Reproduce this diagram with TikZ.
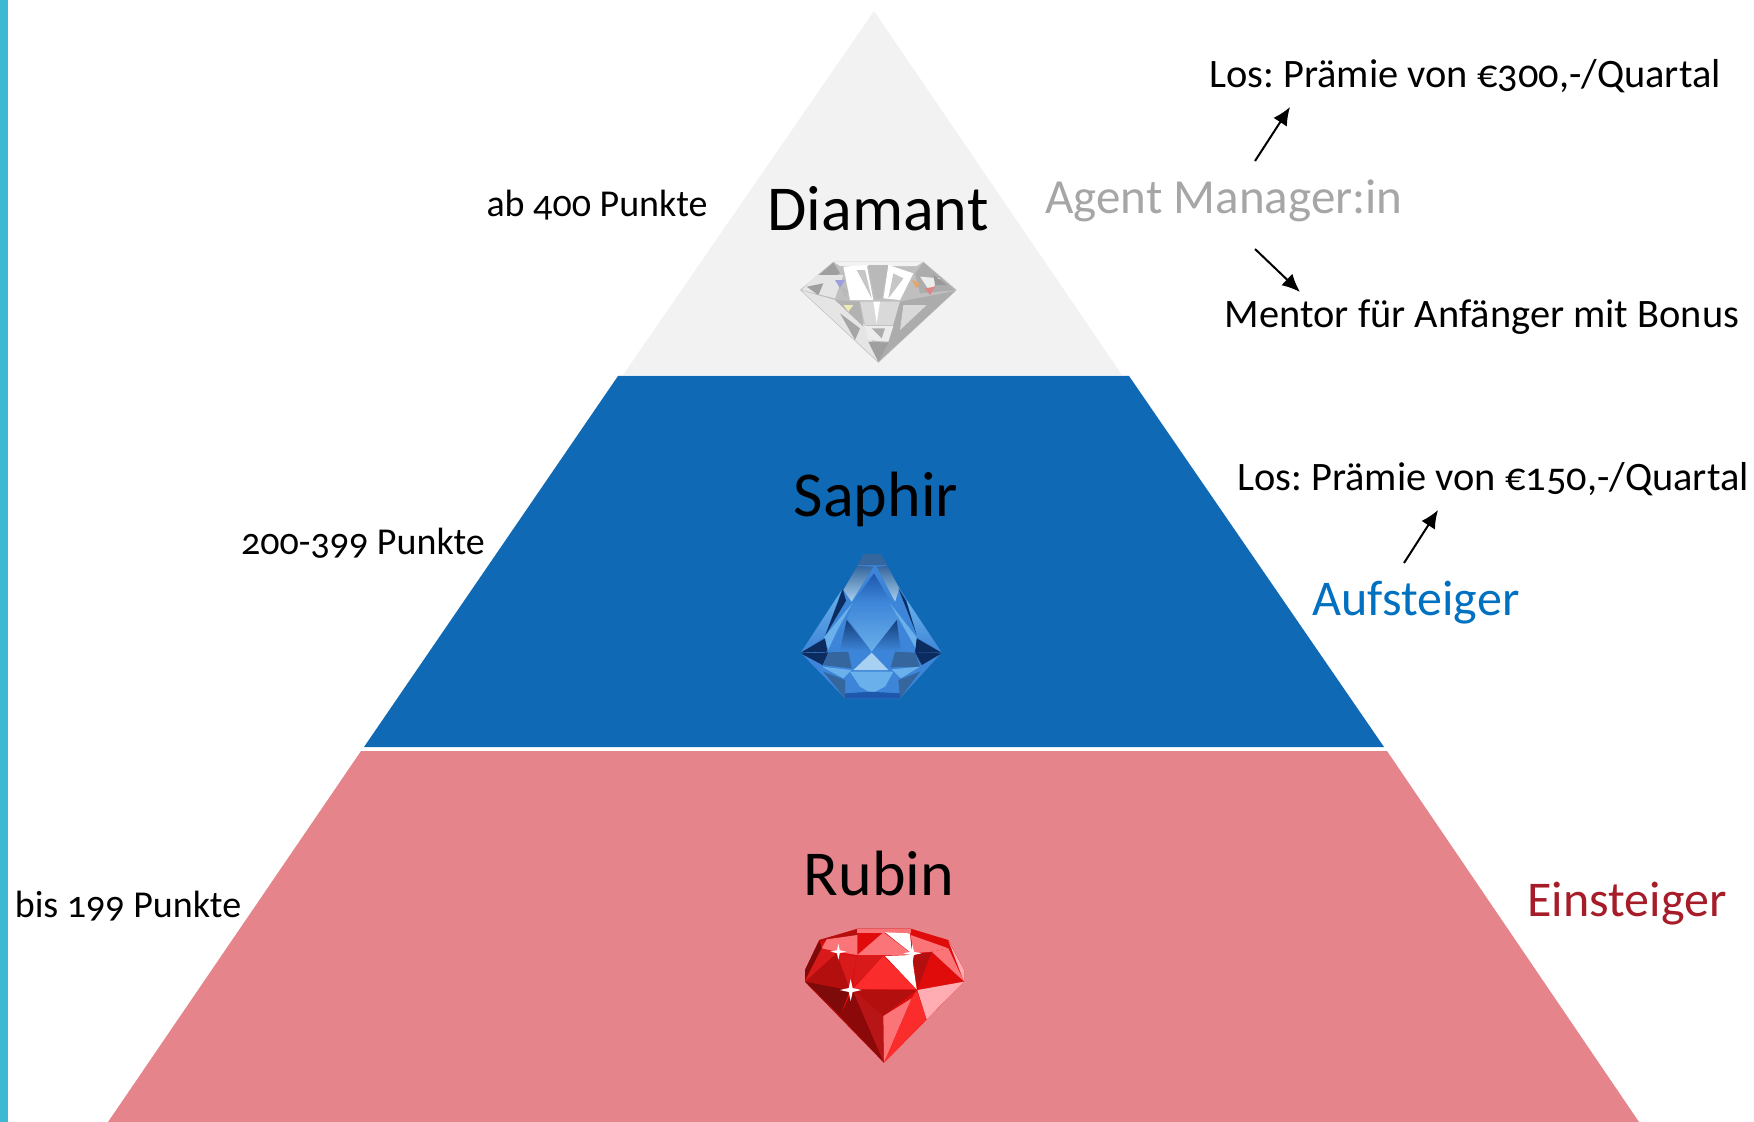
\documentclass[tikz,border=0pt]{standalone}
\usepackage{fontspec}
\setmainfont[Numbers=OldStyle]{Carlito}
\usetikzlibrary{arrows.meta,shapes.geometric}
\definecolor{barcyan}{HTML}{3FB8D4}
\definecolor{diamgrey}{HTML}{F2F2F2}
\definecolor{saphblue}{HTML}{0F69B4}
\definecolor{rubinred}{HTML}{E5858B}
\definecolor{agentgrey}{HTML}{A6A6A6}
\definecolor{aufblue}{HTML}{0070C0}
\definecolor{einred}{HTML}{A61C28}
\definecolor{rbA}{HTML}{7E0A0A}
\definecolor{rbB}{HTML}{B30F0F}
\definecolor{rbC}{HTML}{D81A1A}
\definecolor{rbD}{HTML}{E00C0C}
\definecolor{rbE}{HTML}{FA2C2C}
\definecolor{rbF}{HTML}{FA7478}
\definecolor{rbG}{HTML}{FFACB2}
\definecolor{sbA}{HTML}{0C2C60}
\definecolor{sbB}{HTML}{1D58AC}
\definecolor{sbC}{HTML}{3D85D8}
\definecolor{sbD}{HTML}{6AB0EA}
\definecolor{sbE}{HTML}{A8D0F0}
\definecolor{sbF}{HTML}{35669E}
\tikzset{
	tier/.style={font=\fontsize{32}{38}\selectfont,text=black,inner sep=0},
	points/.style={font=\fontsize{19}{23}\selectfont,text=black,inner sep=0},
	perk/.style={font=\fontsize{20.2}{24}\selectfont,text=black,inner sep=0},
	role/.style={font=\fontsize{25}{30}\selectfont,inner sep=0},
	perkarrow/.style={-{Latex[width=8pt,length=9pt]},black,line width=1pt},
	sparkle/.style={star,star points=4,star point ratio=4,fill=white,inner sep=0,minimum size=11pt}
}
\begin{document}
\frenchspacing
\begin{tikzpicture}[x=.5pt,y=-.5pt]
	\useasboundingbox (0,0) rectangle (1754,1122);
	%%%% bar
	\fill[barcyan] (0,0) rectangle (8,1122);

	%%%% tiers
	\fill[diamgrey] (874,11) -- (1122,375) -- (623,375) -- cycle;
	\fill[saphblue] (618,376) -- (1129,376) -- (1384,747) -- (364,747) -- cycle;
	\fill[rubinred] (361,751) -- (1387,751) -- (1639,1122) -- (108,1122) -- cycle;

	%%%% diamond
	\begin{scope}[shift={(760,230)},x=.1667pt,y=-.1667pt]
		\fill[gray!50] (220,95) -- (490,95) -- (590,180) -- (355,398) -- (120,180) -- cycle;
		\fill[gray!10] (220,95) -- (490,95) -- (470,108) -- (240,108) -- cycle;
		\fill[gray!75] (220,98) -- (240,130) -- (125,180) -- cycle;
		\fill[gray!20] (170,135) -- (250,135) -- (225,205) -- (125,180) -- cycle;
		\fill[gray!75] (140,170) -- (190,160) -- (175,195) -- cycle;
		\fill[white] (250,110) -- (320,105) -- (340,210) -- (270,210) -- cycle;
		\fill[gray!55] (325,105) -- (385,105) -- (365,205) -- (345,205) -- cycle;
		\fill[white] (385,105) -- (460,130) -- (420,210) -- (370,205) -- cycle;
		\fill[gray!45] (290,120) -- (315,120) -- (335,205) -- cycle;
		\fill[gray!45] (400,130) -- (430,145) -- (385,205) -- cycle;
		\fill[gray!65] (490,98) -- (585,180) -- (480,190) -- (465,130) -- cycle;
		\fill[gray!15] (480,140) -- (540,145) -- (510,185) -- cycle;
		\fill[gray!80] (520,135) -- (560,165) -- (525,165) -- cycle;
		\fill[blue!50!gray!50] (225,150) -- (255,150) -- (240,175) -- cycle;
		\fill[orange!70!gray!70] (455,150) -- (480,160) -- (470,175) -- cycle;
		\fill[red!60!gray!60] (495,175) -- (525,170) -- (510,195) -- cycle;
		\fill[gray!55] (240,170) -- (265,180) -- (255,205) -- cycle;
		\fill[gray!20] (125,182) -- (225,210) -- (320,290) -- (355,395) -- cycle;
		\fill[gray!60] (225,210) -- (300,215) -- (310,290) -- cycle;
		\fill[yellow!60!gray!40] (250,225) -- (280,225) -- (265,245) -- cycle;
		\fill[gray!30] (300,215) -- (420,215) -- (400,285) -- (315,285) -- cycle;
		\fill[white] (340,215) -- (360,215) -- (350,280) -- cycle;
		\fill[gray!65] (420,215) -- (585,183) -- (355,395) -- (400,285) -- cycle;
		\fill[gray!30] (430,225) -- (500,225) -- (420,300) -- cycle;
		\fill[gray!70] (240,250) -- (300,295) -- (285,330) -- cycle;
		\fill[gray!15] (315,288) -- (400,288) -- (385,335) -- (325,330) -- cycle;
		\fill[gray!65] (335,295) -- (375,295) -- (365,325) -- cycle;
		\fill[gray!75] (325,335) -- (385,338) -- (355,396) -- cycle;
	\end{scope}

	%%%% sapphire
	\begin{scope}[shift={(770,530)},x=.1667pt,y=-.1667pt]
		\fill[sbC] (282,72) -- (330,72) -- (385,170) -- (515,368) -- (390,505) -- (225,505) -- (92,368) -- (225,180) -- cycle;
		\fill[sbF] (282,72) -- (330,72) -- (352,105) -- (262,105) -- cycle;
		\shade[top color=sbF,bottom color=sbE] (262,108) -- (310,110) -- (245,215) -- (220,180) -- cycle;
		\shade[top color=sbF,bottom color=sbE] (320,110) -- (352,108) -- (388,175) -- (375,215) -- cycle;
		\shade[top color=sbB,bottom color=sbC] (312,130) -- (362,215) -- (250,215) -- cycle;
		\shade[top color=sbC,bottom color=sbD] (250,215) -- (362,215) -- (385,265) -- (305,365) -- (232,265) -- cycle;
		\shade[top color=sbD,bottom color=sbC] (215,180) -- (165,318) -- (92,368) -- cycle;
		\shade[top color=sbD,bottom color=sbC] (410,210) -- (515,368) -- (440,320) -- cycle;
		\fill[sbA] (218,178) -- (228,212) -- (165,318) -- cycle;
		\fill[sbA] (385,175) -- (408,212) -- (440,315) -- cycle;
		\fill[sbD] (248,218) -- (205,295) -- (175,358) -- (162,322) -- cycle;
		\fill[sbD] (360,220) -- (400,290) -- (440,360) -- (440,322) -- cycle;
		\shade[top color=sbB!70!black,bottom color=sbC] (230,270) -- (302,362) -- (210,360) -- cycle;
		\shade[top color=sbB!70!black,bottom color=sbC] (380,270) -- (308,362) -- (392,360) -- cycle;
		\fill[sbA] (92,368) -- (165,325) -- (172,365) -- cycle;
		\fill[sbA] (515,368) -- (440,325) -- (435,368) -- cycle;
		\fill[sbA] (92,370) -- (175,367) -- (158,405) -- cycle;
		\fill[sbA] (515,370) -- (435,367) -- (455,405) -- cycle;
		\fill[sbF] (175,367) -- (235,365) -- (245,415) -- (160,405) -- cycle;
		\fill[sbF] (375,365) -- (435,368) -- (450,410) -- (362,412) -- cycle;
		\fill[sbC] (235,365) -- (300,365) -- (250,410) -- cycle;
		\fill[sbC] (310,365) -- (375,365) -- (355,415) -- cycle;
		\fill[sbE] (305,368) -- (355,420) -- (250,420) -- cycle;
		\fill[sbD] (155,410) -- (245,420) -- (220,445) -- cycle;
		\fill[sbD] (450,410) -- (365,418) -- (392,445) -- cycle;
		\fill[sbF] (160,425) -- (225,450) -- (225,505) -- cycle;
		\fill[sbF] (450,425) -- (385,450) -- (390,505) -- cycle;
		\fill[sbD] (240,425) -- (370,425) -- (345,470) -- (305,490) -- (270,470) -- cycle;
		\fill[sbB] (225,490) -- (300,485) -- (390,490) -- (390,505) -- (225,505) -- cycle;
	\end{scope}

	%%%% ruby
	\begin{scope}[shift={(780,900)},x=.1667pt,y=-.1667pt]
		\fill[rbD] (232,86) -- (392,86) -- (505,120) -- (552,210) -- (552,245) -- (312,488) -- (75,245) -- (75,210) -- (118,120) -- cycle;
		\fill[rbB] (118,120) -- (232,88) -- (232,105) -- (125,125) -- cycle;
		\fill[rbF] (232,86) -- (392,86) -- (392,100) -- (232,100) -- cycle;
		\fill[rbF] (125,145) -- (140,118) -- (232,105) -- (232,165) -- (170,155) -- cycle;
		\fill[rbF] (232,165) -- (310,97) -- (400,165) -- cycle;
		\fill[white] (315,97) -- (390,100) -- (395,160) -- cycle;
		\fill[rbF] (392,105) -- (505,145) -- (455,155) -- (400,160) -- cycle;
		\fill[rbA] (118,120) -- (125,145) -- (75,240) -- (75,210) -- cycle;
		\fill[rbC] (125,145) -- (170,160) -- (75,245) -- cycle;
		\fill[rbB] (170,160) -- (75,245) -- (210,268) -- cycle;
		\fill[rbC] (170,160) -- (230,168) -- (210,268) -- cycle;
		\fill[rbC] (230,168) -- (310,168) -- (218,262) -- cycle;
		\fill[rbE] (310,168) -- (410,268) -- (218,268) -- cycle;
		\fill[white] (315,168) -- (395,165) -- (410,268) -- cycle;
		\fill[rbB] (398,160) -- (455,158) -- (412,268) -- cycle;
		\fill[rbF] (455,155) -- (505,145) -- (552,245) -- cycle;
		\fill[rbD] (455,158) -- (552,245) -- (412,268) -- cycle;
		\fill[rbG] (505,122) -- (552,210) -- (552,245) -- cycle;
		\fill[rbA] (75,245) -- (210,270) -- (180,348) -- cycle;
		\fill[rbB] (75,245) -- (180,348) -- (312,488) -- cycle;
		\fill[rbA!90!red] (180,348) -- (218,270) -- (312,488) -- cycle;
		\fill[rbC!85!black] (218,270) -- (310,348) -- (312,488) -- cycle;
		\fill[rbB] (218,268) -- (410,270) -- (310,348) -- cycle;
		\fill[rbF] (310,348) -- (395,295) -- (312,488) -- cycle;
		\fill[rbE] (410,272) -- (440,358) -- (312,488) -- (395,295) -- cycle;
		\fill[rbG] (412,270) -- (552,245) -- (440,358) -- cycle;
		\node[sparkle] (s1) at (212,270) {};
		\node[sparkle,minimum size=8pt] (s2) at (175,155) {};
		\node[sparkle,minimum size=9pt] (s3) at (397,160) {};
	\end{scope}

	%%%% labels
	\node[tier] (diamant) at (878,209) {Diamant};
	\node[tier] (saphir) at (876,499) {Saphir};
	\node[tier] (rubin) at (879,874) {Rubin};
	\node[points] (p400) at (597,205) {ab 400 Punkte};
	\node[points] (p399) at (363,543) {200-399 Punkte};
	\node[points] (p199) at (128,906) {bis 199 Punkte};
	\node[role,text=agentgrey,font=\fontsize{24.5}{30}\selectfont] (agent) at (1224,201) {Agent Manager:in};
	\node[role,text=aufblue] (auf) at (1416,603) {Aufsteiger};
	\node[role,text=einred] (ein) at (1627,904) {Einsteiger};
	\node[perk] (los300) at (1465,76) {Los: Prämie von €300,-/Quartal};
	\node[perk] (mentor) at (1482,317) {Mentor für Anfänger mit Bonus};
	\node[perk] (los150) at (1493,479) {Los: Prämie von €150,-/Quartal};

	%%%% arrows
	\coordinate (a1) at (1255,161);
	\coordinate (a2) at (1290,107);
	\coordinate (b1) at (1255,249);
	\coordinate (b2) at (1300,292);
	\coordinate (c1) at (1404,563);
	\coordinate (c2) at (1438,510);
	\draw[perkarrow] (a1) -- (a2);
	\draw[perkarrow] (b1) -- (b2);
	\draw[perkarrow] (c1) -- (c2);
\end{tikzpicture}
\end{document}
